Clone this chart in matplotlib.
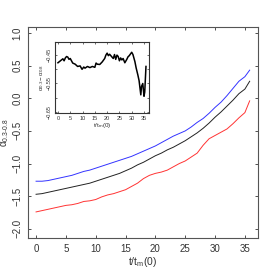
import matplotlib
matplotlib.use("Agg")
import matplotlib.pyplot as plt

plt.rcParams['font.family'] = ['Liberation Sans', 'DejaVu Sans']
plt.rcParams['mathtext.fontset'] = 'custom'
plt.rcParams['mathtext.rm'] = 'Liberation Sans'
plt.rcParams['mathtext.it'] = 'Liberation Sans'

# Main panel data
t_main = [0, 1, 2, 3, 4, 5, 6, 7, 8, 9, 10, 11, 12, 13, 14, 15, 16, 17, 18, 19, 20,
          21, 22, 23, 24, 25, 26, 27, 28, 29, 30, 31, 32, 33, 34, 35, 35.8]
blue = [-1.27, -1.27, -1.26, -1.24, -1.22, -1.20, -1.18, -1.15, -1.12, -1.10, -1.07,
        -1.04, -1.01, -0.98, -0.95, -0.92, -0.89, -0.85, -0.81, -0.77, -0.73,
        -0.68, -0.63, -0.58, -0.54, -0.50, -0.44, -0.37, -0.31, -0.23, -0.14,
        -0.06, 0.04, 0.15, 0.26, 0.33, 0.43]
black = [-1.47, -1.46, -1.44, -1.42, -1.40, -1.38, -1.36, -1.34, -1.32, -1.30, -1.27,
         -1.24, -1.21, -1.18, -1.15, -1.11, -1.07, -1.02, -0.98, -0.93, -0.88,
         -0.84, -0.79, -0.75, -0.70, -0.65, -0.59, -0.53, -0.46, -0.38, -0.29,
         -0.21, -0.12, -0.03, 0.07, 0.14, 0.26]
red = [-1.74, -1.72, -1.70, -1.68, -1.66, -1.64, -1.63, -1.61, -1.58, -1.57, -1.55,
       -1.51, -1.48, -1.46, -1.43, -1.40, -1.35, -1.30, -1.23, -1.18, -1.15,
       -1.13, -1.10, -1.05, -1.00, -0.96, -0.90, -0.84, -0.72, -0.62, -0.57,
       -0.52, -0.47, -0.39, -0.30, -0.22, -0.04]

# Inset data
t_inset = [0, 1, 2, 2.5, 3, 3.5, 4, 4.5, 5, 6, 7, 8, 9, 9.8, 10.5, 11, 12, 13, 14, 15,
           15.5, 16, 17, 18, 19, 19.5, 20, 20.5, 21, 22, 22.5, 23, 23.5, 24, 24.5, 25,
           25.5, 26, 26.5, 27.2, 28, 28.5, 29, 30, 30.5, 31.3, 31.8, 32.5, 33, 33.7,
           34, 34.5, 35, 35.3, 35.8]
diff = [-0.477, -0.470, -0.463, -0.470, -0.460, -0.455, -0.457, -0.465, -0.462, -0.478,
        -0.482, -0.490, -0.488, -0.500, -0.492, -0.496, -0.490, -0.494, -0.490, -0.493,
        -0.478, -0.482, -0.483, -0.474, -0.462, -0.450, -0.443, -0.452, -0.447, -0.457,
        -0.462, -0.448, -0.465, -0.450, -0.455, -0.470, -0.460, -0.467, -0.462, -0.477,
        -0.465, -0.456, -0.452, -0.440, -0.448, -0.473, -0.495, -0.520, -0.540, -0.590,
        -0.560, -0.550, -0.595, -0.580, -0.490]

main_xticks = [0, 5, 10, 15, 20, 25, 30, 35]
main_yticks = [-2.0, -1.5, -1.0, -0.5, 0.0, 0.5, 1.0]
inset_xticks = [0, 5, 10, 15, 20, 25, 30, 35]
inset_yticks = [-0.45, -0.50, -0.55, -0.60, -0.65]
inset_ylabels = ['-0.45', '', '-0.55', '', '-0.65']

fig = plt.figure(figsize=(2.73, 2.73), dpi=100)
ax = fig.add_axes([0.1026, 0.128, 0.8425, 0.773])
ax.plot(t_main, blue, color='#3333ff', lw=0.7)
ax.plot(t_main, black, color='#222222', lw=0.7)
ax.plot(t_main, red, color='#ff3333', lw=0.7)
ax.set_xlim(-1.35, 37.2)
ax.set_ylim(-2.14, 1.09)
ax.set_xticks(main_xticks)
ax.set_yticks(main_yticks)
ax.set_yticklabels([f'{v:.1f}'.replace('-', '\u2212') for v in main_yticks],
                   rotation=90, va='center')
ax.tick_params(direction='in', length=2.5, width=0.6, labelsize=7, colors='#333333',
               top=True, right=True, pad=4)
for s in ax.spines.values():
    s.set_color('#555555')
    s.set_linewidth(0.8)
ax.set_xlabel(r'$\mathrm{t/t_m(0)}$', fontsize=7.5, color='#333333', labelpad=1)
ax.set_ylabel(r'$\alpha_{0.3\text{-}0.8}$', fontsize=7, color='#333333')
ax.yaxis.set_label_coords(-0.075, 0.5)

ins = fig.add_axes([0.2015, 0.586, 0.344, 0.26])
ins.plot(t_inset, diff, color='black', lw=1.1)
ins.set_xlim(-1.2, 37.0)
ins.set_ylim(-0.654, -0.404)
ins.set_xticks(inset_xticks)
ins.set_yticks(inset_yticks)
ins.set_yticklabels([l.replace('-', '\u2212') for l in inset_ylabels],
                    rotation=90, va='center')
ins.tick_params(direction='in', length=1.5, width=0.5, labelsize=4, colors='#333333',
                top=True, right=True, pad=2)
for s in ins.spines.values():
    s.set_color('#333333')
    s.set_linewidth(0.8)
ins.set_xlabel(r'$\mathrm{t/t_m(0)}$', fontsize=4.5, color='#333333', labelpad=0.5)
ins.set_ylabel(r'$\alpha_{0.3} - \alpha_{0.8}$', fontsize=4.5, color='#333333', labelpad=1)

fig.savefig('out.png', dpi=100)
